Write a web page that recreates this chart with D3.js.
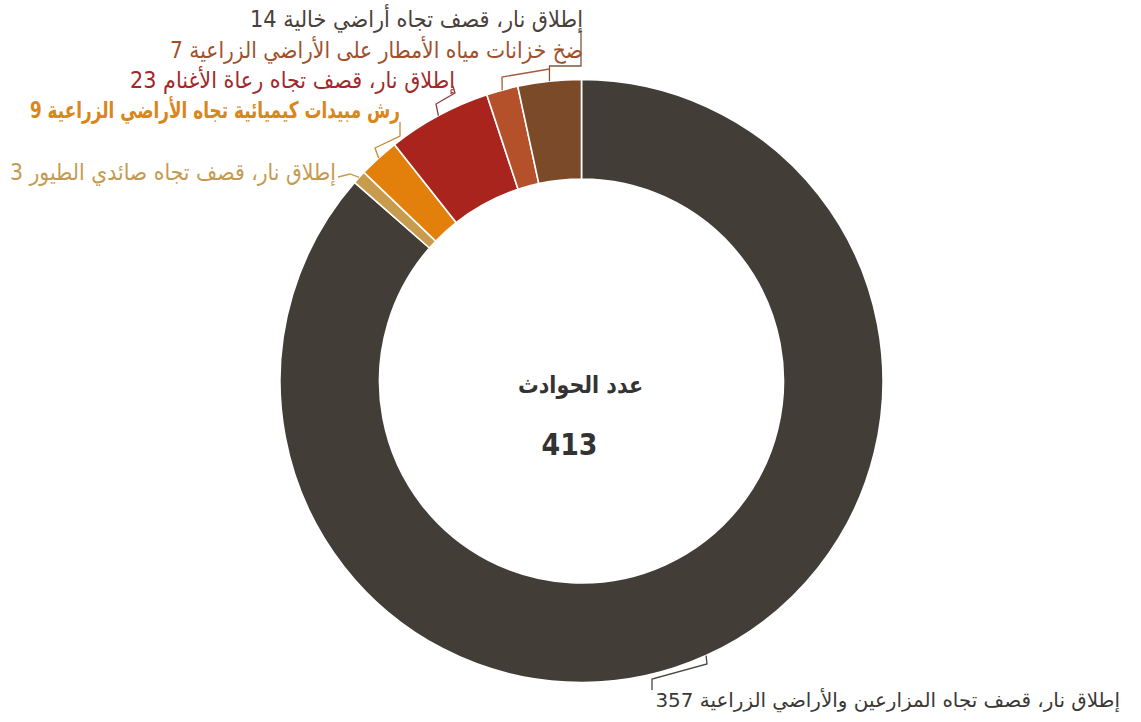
<!DOCTYPE html>
<html>
<head>
<meta charset="utf-8">
<script src="https://cdnjs.cloudflare.com/ajax/libs/d3/7.8.5/d3.min.js"></script>
<style>
  html, body { margin: 0; padding: 0; background: #ffffff; }
  svg { display: block; }
  text { font-family: "DejaVu Sans", "Noto Sans", sans-serif; }
</style>
</head>
<body>
<svg id="chart" width="1141" height="722"></svg>
<script>
// ---- data ----
const categories = [
  "إطلاق نار، قصف تجاه المزارعين والأراضي الزراعية",
  "إطلاق نار، قصف تجاه صائدي الطيور",
  "رش مبيدات كيميائية تجاه الأراضي الزراعية",
  "إطلاق نار، قصف تجاه رعاة الأغنام",
  "ضخ خزانات مياه الأمطار على الأراضي الزراعية",
  "إطلاق نار،  قصف تجاه أراضي خالية"
];
const values = [357, 3, 9, 23, 7, 14];
const centerTitle = "عدد الحوادث";
const centerTotal = d3.sum(values);

// ---- styles / layout ----
const sliceColors = ["#423e37", "#c99b4c", "#e3800c", "#a8241c", "#b4502a", "#7a4a29"];
const labelColors = ["#3a3835", "#c49a50", "#d9861a", "#a3282a", "#a0502c", "#4a403a"];
const lineColors  = ["#4a4640", "#c49a50", "#c58a30", "#8e3a36", "#a65a38", "#7a5a40"];
const labelWeights = ["normal", "normal", "bold", "normal", "normal", "normal"];
const cx = 581.5, cy = 381, rOuter = 301.5, rInner = 202;
// label anchor (right edge x, baseline y, target width, fit mode) and leader bend points, indexed like data
const labelPos = [
  {x: 1120, y: 707, w: 465, fit: "font",    bends: [[707, 664], [652, 679], [652, 690]]},
  {x: 336,  y: 180, w: 326, fit: "stretch", bends: [[350, 174], [338, 177]]},
  {x: 400,  y: 118, w: 370, fit: "stretch", bends: [[375, 148], [400, 136], [400, 122]]},
  {x: 455,  y: 88,  w: 325, fit: "stretch", bends: [[436, 104], [455, 93], [453, 86]]},
  {x: 583,  y: 58,  w: 413, fit: "stretch", bends: [[502, 77], [549.5, 69]]},
  {x: 583,  y: 27,  w: 333, fit: "stretch", bends: [[549.5, 66], [581, 66], [581, 30]]}
];
const baseFont = 23;

const svg = d3.select("#chart");
const g = svg.append("g").attr("transform", `translate(${cx},${cy})`);

const pie = d3.pie().sort(null).value(d => d)(values);
const arc = d3.arc().innerRadius(rInner).outerRadius(rOuter);

g.selectAll("path.slice")
  .data(pie)
  .join("path")
  .attr("class", "slice")
  .attr("d", arc)
  .attr("fill", (d, i) => sliceColors[i])
  .attr("stroke", "#ffffff")
  .attr("stroke-width", 1.6);

// leader lines
const line = d3.line();
pie.forEach((d, i) => {
  const a = (d.startAngle + d.endAngle) / 2;
  const start = [cx + rOuter * Math.sin(a), cy - rOuter * Math.cos(a)];
  const pts = [start].concat(labelPos[i].bends);
  svg.append("path")
    .attr("d", line(pts))
    .attr("fill", "none")
    .attr("stroke", lineColors[i])
    .attr("stroke-width", 1.3);
});

// labels
pie.forEach((d, i) => {
  const p = labelPos[i];
  const t = svg.append("text")
    .attr("x", p.x)
    .attr("y", p.y)
    .attr("text-anchor", "end")
    .attr("font-size", baseFont)
    .attr("font-weight", labelWeights[i])
    .attr("fill", labelColors[i])
    .text(categories[i] + " " + values[i]);
  if (p.fit === "stretch") {
    t.attr("textLength", p.w).attr("lengthAdjust", "spacingAndGlyphs");
  } else {
    const len = t.node().getComputedTextLength();
    if (len > 0) t.attr("font-size", (baseFont * p.w / len).toFixed(2));
  }
});

// center
svg.append("text")
  .attr("x", 580.5).attr("y", 393)
  .attr("text-anchor", "middle")
  .attr("font-size", 24).attr("font-weight", "bold")
  .attr("fill", "#333333")
  .attr("textLength", 125)
  .attr("lengthAdjust", "spacingAndGlyphs")
  .text(centerTitle);
svg.append("text")
  .attr("x", 569.5).attr("y", 455)
  .attr("text-anchor", "middle")
  .attr("font-size", 30).attr("font-weight", "bold")
  .attr("fill", "#333333")
  .attr("textLength", 56)
  .attr("lengthAdjust", "spacingAndGlyphs")
  .text(centerTotal);
</script>
</body>
</html>
